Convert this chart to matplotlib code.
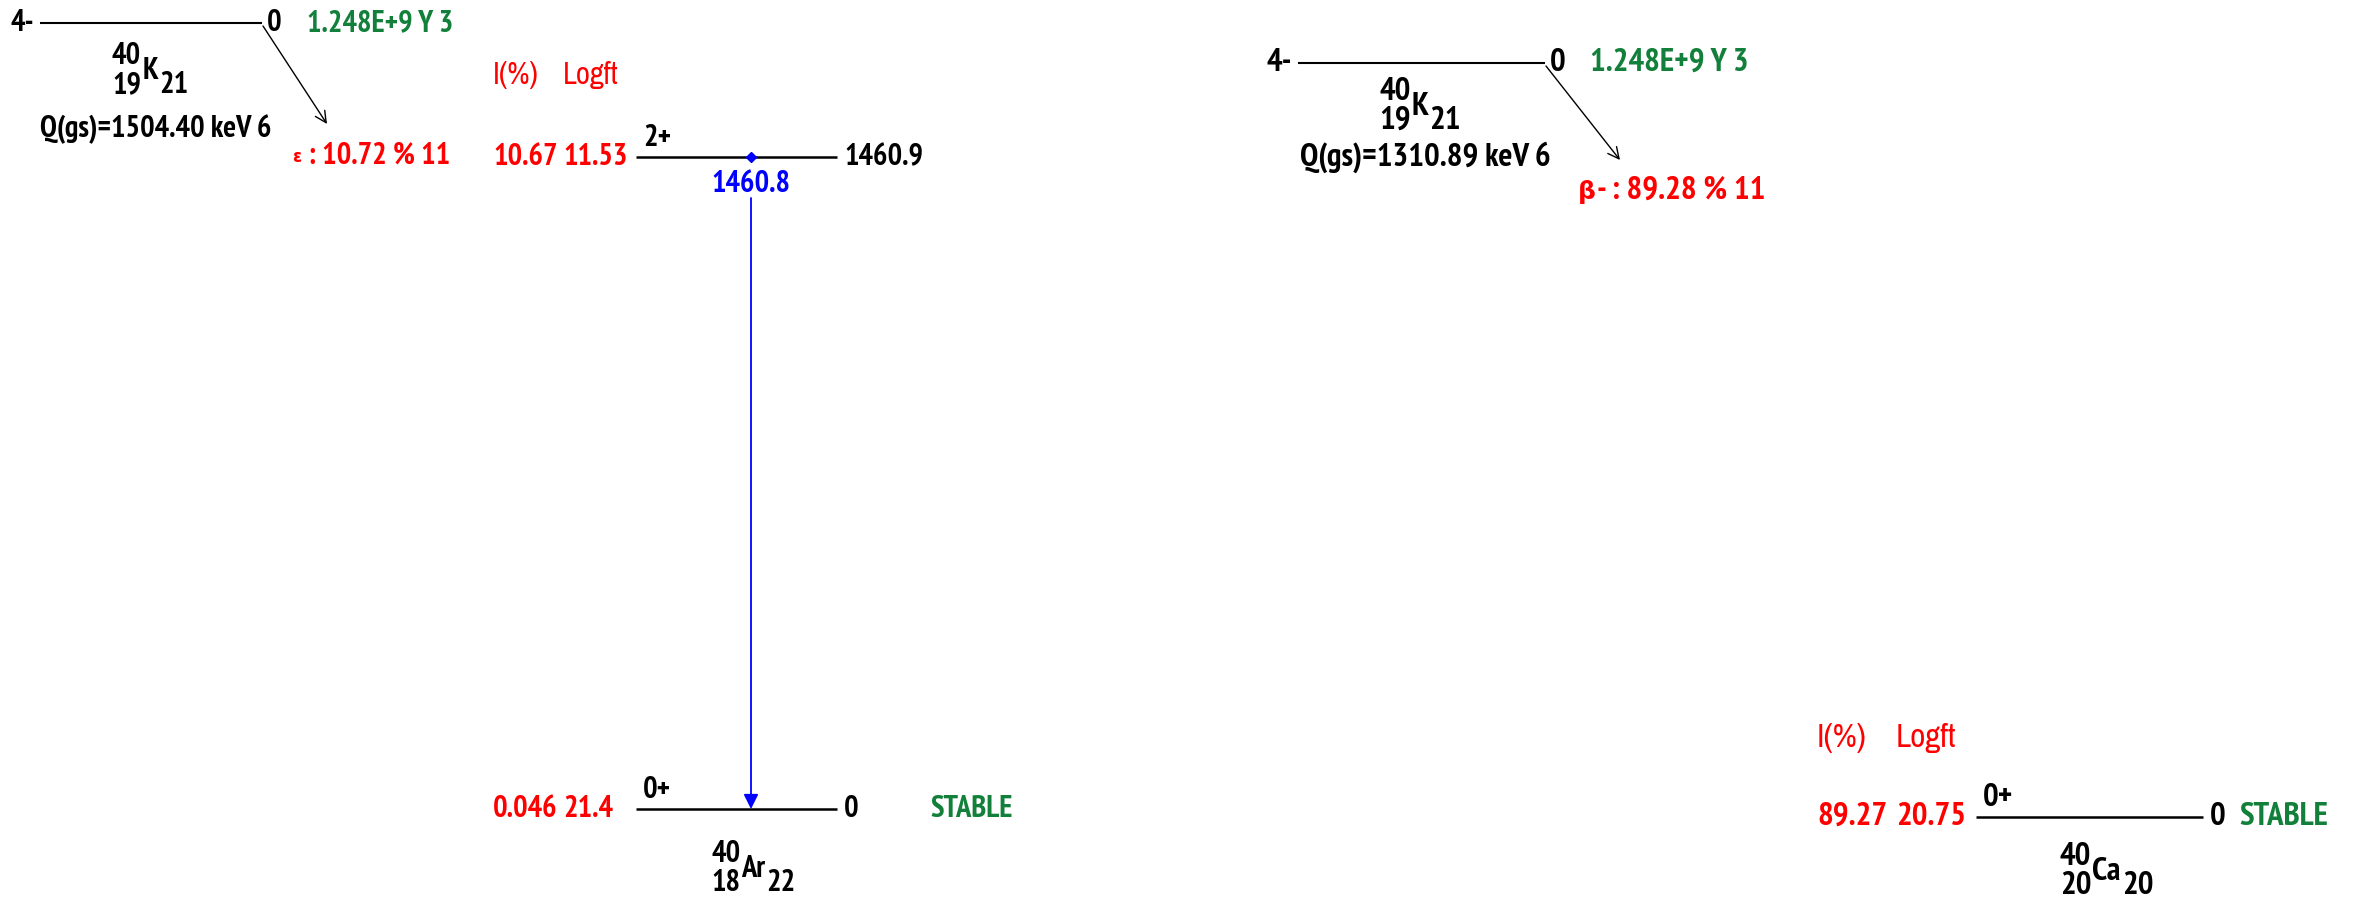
import os
import matplotlib
matplotlib.use('Agg')
import matplotlib.pyplot as plt
import matplotlib.font_manager as fm
from matplotlib.transforms import offset_copy

# parent nucleus, 40K
parent_mass, parent_z, parent_elem, parent_n = '40', '19', 'K', '21'
parent_jpi = '4-'
parent_energy = '0'
parent_halflife = '1.248E+9 Y 3'

# EC branch -> 40Ar
ec_q = 'Q(gs)=1504.40 keV 6'
ec_branch = 'ε : 10.72 % 11'
ar_mass, ar_z, ar_elem, ar_n = '40', '18', 'Ar', '22'
ar_energy = [1460.9, 0.0]
ar_energy_lbl = ['1460.9', '0']
ar_jpi = ['2+', '0+']
ar_intensity = ['10.67', '0.046']
ar_logft = ['11.53', '21.4']
ar_halflife = ['', 'STABLE']
gamma_from = [1460.9]
gamma_to = [0.0]
gamma_lbl = ['1460.8']

# beta- branch -> 40Ca
bm_q = 'Q(gs)=1310.89 keV 6'
bm_branch = 'β- : 89.28 % 11'
ca_mass, ca_z, ca_elem, ca_n = '40', '20', 'Ca', '20'
ca_energy = [0.0]
ca_energy_lbl = ['0']
ca_jpi = ['0+']
ca_intensity = ['89.27']
ca_logft = ['20.75']
ca_halflife = ['STABLE']

W, H = 2356, 901
RED = '#ff0000'
GREEN = '#12803a'
BLUE = '#0000ff'
PX_PER_KEV = 652 / 1460.9


def pick_font(bold):
    # the reference uses a narrow bitmap-like font; take a narrow face if there is one
    for f in fm.fontManager.ttflist:
        base = os.path.basename(f.fname)
        if 'Narrow' in f.name or 'Narrow' in base:
            is_bold = 'Bold' in base or f.weight in ('bold', 700)
            if is_bold == bold and 'Italic' not in base:
                return f.fname
    return None


narrow_bold = pick_font(True)
narrow_reg = pick_font(False)
if narrow_bold and narrow_reg:
    FS_LEFT, FS_RIGHT = 22, 23.8
    FONTS = {'bold': fm.FontProperties(fname=narrow_bold),
             'normal': fm.FontProperties(fname=narrow_reg)}
else:
    FS_LEFT, FS_RIGHT = 18, 19.5
    FONTS = {'bold': fm.FontProperties(family='Liberation Sans', weight='bold'),
             'normal': fm.FontProperties(family='Liberation Sans', weight='normal')}
GREEK = fm.FontProperties(family='DejaVu Sans', weight='bold')
FS = FS_LEFT

fig = plt.figure(figsize=(W / 100, H / 100), dpi=100)
ax = fig.add_axes([0, 0, 1, 1])
ax.set_xlim(0, W)
ax.set_ylim(H, 0)
ax.axis('off')


def energy_axes(y_zero_px):
    # keV on y, same pixel x as the main axes
    top = max(ar_energy)
    height_px = top * PX_PER_KEV
    a = fig.add_axes([0, (H - y_zero_px) / H, 1, height_px / H])
    a.set_xlim(0, W)
    a.set_ylim(0, top)
    a.axis('off')
    return a


ax_ar = energy_axes(809)
ax_ca = energy_axes(817)

renderer = fig.canvas.get_renderer()


def txt(a, x, y, s, color='black', weight='bold', ha='left', trans=None, fp=None, size=None):
    fp = (fp or FONTS[weight]).copy()
    fp.set_size(size or FS)
    return a.text(x, y, s, color=color, fontproperties=fp, ha=ha,
                  va='center', transform=trans or a.transData, clip_on=False)


def nuclide(x, y, mass, z, elem, n):
    m = txt(ax, x, y - 15, mass)
    txt(ax, x, y + 14, z)
    x1 = m.get_window_extent(renderer).x1
    e = txt(ax, x1 + 1, y, elem)
    x2 = e.get_window_extent(renderer).x1
    txt(ax, x2 + 1, y + 14, n)


def branch_label(x, y, s, sym_size):
    # greek decay symbol from DejaVu, the rest in the narrow face
    g = txt(ax, x, y + 1, s[0], color=RED, fp=GREEK, size=sym_size)
    gx1 = g.get_window_extent(renderer).x1
    txt(ax, gx1 + 1, y, s[1:], color=RED)


def parent(x0, x1, y, qx, qy, q, arrow_to, branch, branch_xy, lbl_xy, sym_size):
    txt(ax, x0 - 6, y, parent_jpi, ha='right')
    ax.plot([x0, x1], [y, y], color='black', lw=1.5, solid_capstyle='butt')
    txt(ax, x1 + 5, y, parent_energy)
    txt(ax, x1 + 45, y, parent_halflife, color=GREEN)
    nuclide(lbl_xy[0], lbl_xy[1], parent_mass, parent_z, parent_elem, parent_n)
    txt(ax, qx, qy, q)
    ax.annotate('', xy=arrow_to, xytext=(x1 + 1, y + 3),
                arrowprops=dict(arrowstyle='->', color='black', lw=1.0,
                                mutation_scale=20, shrinkA=0, shrinkB=0))
    branch_label(branch_xy[0], branch_xy[1], branch, sym_size)


def scheme(a, x0, x1, energies, e_lbl, jpi, inten, logft, hl, ix, lx, hx, head_y):
    txt(ax, ix, head_y, 'I(%)', color=RED, weight='normal')
    txt(ax, lx, head_y, 'Logft', color=RED, weight='normal')
    up = offset_copy(a.transData, y=19, units='dots')
    for e, el, j, i, lf, h in zip(energies, e_lbl, jpi, inten, logft, hl):
        a.plot([x0, x1], [e, e], color='black', lw=1.8, solid_capstyle='butt',
               clip_on=False)
        txt(a, x0 + 7, e, j, trans=up)
        txt(a, x1 + 7, e, el)
        txt(a, ix, e, i, color=RED)
        txt(a, lx, e, lf, color=RED)
        if h:
            txt(a, hx, e, h, color=GREEN)


# left: electron capture to 40Ar
FS = FS_LEFT
parent(40, 262, 23, 40, 129, ec_q, (327, 124), ec_branch, (292, 156), (112, 71), 12)
scheme(ax_ar, 636, 837, ar_energy, ar_energy_lbl, ar_jpi, ar_intensity, ar_logft,
       ar_halflife, 493, 563, 930, 75)
nuclide(711, 869, ar_mass, ar_z, ar_elem, ar_n)

gx = 751
for ef, et, gl in zip(gamma_from, gamma_to, gamma_lbl):
    ax_ar.plot([gx], [ef], marker='D', color=BLUE, markersize=5.5, clip_on=False)
    txt(ax_ar, gx, ef, gl, color=BLUE, ha='center',
        trans=offset_copy(ax_ar.transData, y=-27, units='dots'))
    ax_ar.annotate('', xy=(gx, et), xytext=(gx, ef),
                   textcoords=offset_copy(ax_ar.transData, y=-41, units='dots'),
                   arrowprops=dict(arrowstyle='-|>', color=BLUE, lw=1.3,
                                   mutation_scale=22, shrinkA=0, shrinkB=0))

# right: beta- decay to 40Ca
FS = FS_RIGHT
parent(1298, 1545, 63, 1300, 157, bm_q, (1620, 160), bm_branch, (1578, 191), (1379, 107), 18)
scheme(ax_ca, 1976, 2203, ca_energy, ca_energy_lbl, ca_jpi, ca_intensity, ca_logft,
       ca_halflife, 1817, 1896, 2239, 738)
nuclide(2060, 872, ca_mass, ca_z, ca_elem, ca_n)

fig.savefig('out.png', dpi=100, facecolor='white')
